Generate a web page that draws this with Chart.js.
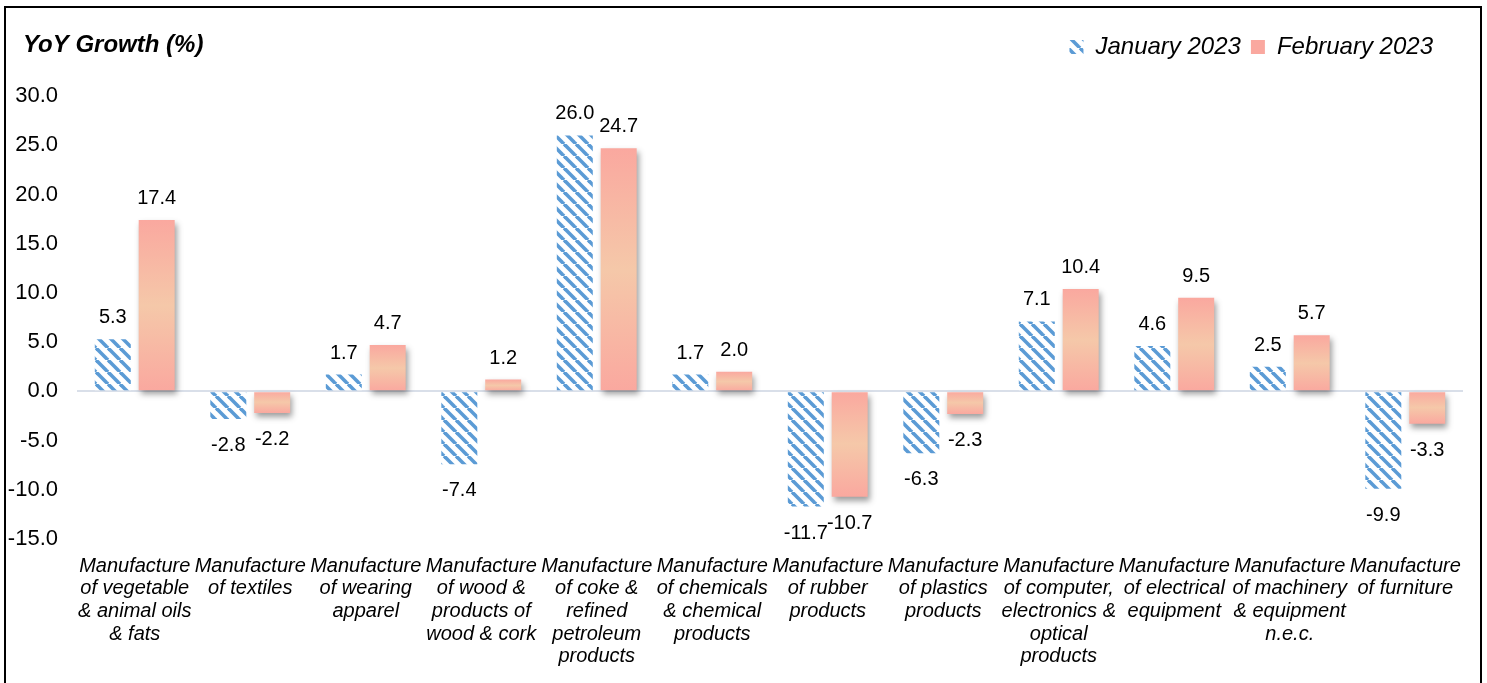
<!DOCTYPE html>
<html>
<head>
<meta charset="utf-8">
<script src="https://cdn.jsdelivr.net/npm/chart.js@4.4.0/dist/chart.umd.min.js"></script>
<style>
  html, body { margin: 0; padding: 0; background: #fff; overflow: hidden; }
  #wrap { position: relative; width: 1487px; height: 683px; }
  #frame { position: absolute; left: 4px; top: 6px; width: 1474px; height: 700px; border: 2px solid #000; pointer-events: none; }
</style>
</head>
<body>
<div id="wrap">
  <canvas id="myChart" width="1487" height="683"></canvas>
  <div id="frame"></div>
</div>
<script>
// Category labels, wrapped the way the original wraps them
const categories = [
    ['Manufacture', 'of vegetable', '& animal oils', '& fats'],
    ['Manufacture', 'of textiles'],
    ['Manufacture', 'of wearing', 'apparel'],
    ['Manufacture', 'of wood &', 'products of', 'wood & cork'],
    ['Manufacture', 'of coke &', 'refined', 'petroleum', 'products'],
    ['Manufacture', 'of chemicals', '& chemical', 'products'],
    ['Manufacture', 'of rubber', 'products'],
    ['Manufacture', 'of plastics', 'products'],
    ['Manufacture', 'of computer,', 'electronics &', 'optical', 'products'],
    ['Manufacture', 'of electrical', 'equipment'],
    ['Manufacture', 'of machinery', '& equipment', 'n.e.c.'],
    ['Manufacture', 'of furniture']
];

// YoY growth values (%)
const janValues = [5.3, -2.8, 1.7, -7.4, 26.0, 1.7, -11.7, -6.3, 7.1, 4.6, 2.5, -9.9];
const febValues = [17.4, -2.2, 4.7, 1.2, 24.7, 2.0, -10.7, -2.3, 10.4, 9.5, 5.7, -3.3];

const seriesNames = ['January 2023', 'February 2023'];
const yTicks = [-15, -10, -5, 0, 5, 10, 15, 20, 25, 30];
const chartTitle = 'YoY Growth (%)';

const FONT = '"Liberation Sans", Arial, sans-serif';
Chart.defaults.font.family = FONT;
Chart.defaults.color = '#000';

const ctx = document.getElementById('myChart').getContext('2d');

// Blue diagonal hatch used for January
function makeHatch() {
    const size = 12;
    const c = document.createElement('canvas');
    c.width = size;
    c.height = size;
    const g = c.getContext('2d');
    g.fillStyle = '#ffffff';
    g.fillRect(0, 0, size, size);
    g.strokeStyle = '#5b9bd5';
    g.lineWidth = 3.6;
    for (let k = -1; k <= 1; k++) {
        g.beginPath();
        g.moveTo(k * size, 0);
        g.lineTo(k * size + size, size);
        g.stroke();
    }
    return ctx.createPattern(c, 'repeat');
}
const hatch = makeHatch();

// Pink -> peach -> pink gradient along each February bar
function febFill(context) {
    const chart = context.chart;
    const v = febValues[context.dataIndex];
    if (v === undefined || !chart.chartArea) return '#f9b0a4';
    const y = chart.scales.y;
    const y0 = y.getPixelForValue(0);
    const y1 = y.getPixelForValue(v);
    const grad = chart.ctx.createLinearGradient(0, Math.min(y0, y1), 0, Math.max(y0, y1));
    grad.addColorStop(0, '#faa89f');
    grad.addColorStop(0.5, '#f5c8a9');
    grad.addColorStop(1, '#faa89f');
    return grad;
}

// drop shadow under the February bars
const barShadow = {
    id: 'barShadow',
    beforeDatasetDraw(chart, args) {
        if (args.index !== 1) return;
        const c = chart.ctx;
        c.save();
        c.shadowColor = 'rgba(0,0,0,0.38)';
        c.shadowBlur = 6;
        c.shadowOffsetX = 2;
        c.shadowOffsetY = 4;
    },
    afterDatasetDraw(chart, args) {
        if (args.index === 1) chart.ctx.restore();
    }
};

// value labels above / below each bar
const valueLabels = {
    id: 'valueLabels',
    afterDatasetsDraw(chart) {
        const c = chart.ctx;
        c.save();
        c.font = '20px ' + FONT;
        c.fillStyle = '#000';
        c.textAlign = 'center';
        c.textBaseline = 'alphabetic';
        chart.data.datasets.forEach((ds, i) => {
            chart.getDatasetMeta(i).data.forEach((bar, j) => {
                const v = ds.data[j];
                const y = v >= 0 ? bar.y - 16 : bar.y + 32;
                c.fillText(v.toFixed(1), bar.x, y);
            });
        });
        c.restore();
    }
};

// title sits on the same line as the legend, top left
const cornerTitle = {
    id: 'cornerTitle',
    afterDraw(chart) {
        const c = chart.ctx;
        c.save();
        c.font = 'italic bold 24px ' + FONT;
        c.fillStyle = '#000';
        c.textAlign = 'left';
        c.textBaseline = 'alphabetic';
        c.fillText(chartTitle, 23, 52);
        c.restore();
    }
};

// extra room under the legend, and pull it in from the right edge
const legendLayout = {
    id: 'legendLayout',
    afterInit(chart) {
        const legend = chart.legend;
        const fit = legend.fit;
        legend.fit = function () {
            fit.call(this);
            this.height += 27;
        };
    },
    afterLayout(chart) {
        chart.legend.right -= 20;
    }
};

new Chart(ctx, {
    type: 'bar',
    data: {
        labels: categories,
        datasets: [{
            label: seriesNames[0],
            data: janValues,
            backgroundColor: hatch,
            borderWidth: 0,
            categoryPercentage: 0.76,
            barPercentage: 0.82
        }, {
            label: seriesNames[1],
            data: febValues,
            backgroundColor: febFill,
            borderWidth: 0,
            categoryPercentage: 0.76,
            barPercentage: 0.82
        }]
    },
    options: {
        responsive: false,
        animation: false,
        events: [],
        layout: {
            padding: { top: 25, right: 24, bottom: 0, left: 0 }
        },
        scales: {
            x: {
                grid: { display: false },
                border: { display: false },
                ticks: {
                    autoSkip: false,
                    maxRotation: 0,
                    padding: 8,
                    color: '#000',
                    font: { size: 20, style: 'italic', lineHeight: 1.13 }
                },
                afterFit(scale) { scale.height = 144; }
            },
            y: {
                min: -15,
                max: 30,
                border: { display: false },
                grid: {
                    drawTicks: false,
                    lineWidth: 2,
                    color: c => (c.tick && c.tick.value === 0) ? '#d9dfe9' : 'rgba(0,0,0,0)'
                },
                ticks: {
                    padding: 19,
                    color: '#000',
                    font: { size: 22 },
                    callback: v => v.toFixed(1)
                },
                afterBuildTicks(scale) {
                    scale.ticks = yTicks.map(v => ({ value: v }));
                },
                afterFit(scale) { scale.width = 77; }
            }
        },
        plugins: {
            tooltip: { enabled: false },
            legend: {
                position: 'top',
                align: 'end',
                labels: {
                    boxWidth: 14,
                    boxHeight: 14,
                    padding: 10,
                    color: '#000',
                    font: { size: 24, style: 'italic' }
                }
            }
        }
    },
    plugins: [barShadow, valueLabels, cornerTitle, legendLayout]
});
</script>
</body>
</html>
